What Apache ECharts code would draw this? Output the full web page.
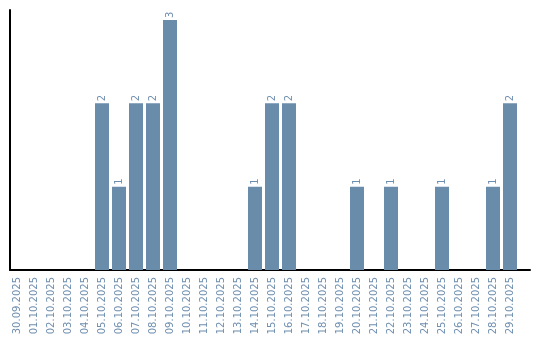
<!DOCTYPE html>
<html><head><meta charset="utf-8">
<script src="https://cdn.jsdelivr.net/npm/echarts@6/dist/echarts.min.js"></script>
<style>html,body{margin:0;padding:0;background:#fff}#c{width:540px;height:340px}</style>
</head><body><div id="c"></div>
<script>
const categories = ['30.09.2025','01.10.2025','02.10.2025','03.10.2025','04.10.2025','05.10.2025','06.10.2025','07.10.2025','08.10.2025','09.10.2025','10.10.2025','11.10.2025','12.10.2025','13.10.2025','14.10.2025','15.10.2025','16.10.2025','17.10.2025','18.10.2025','19.10.2025','20.10.2025','21.10.2025','22.10.2025','23.10.2025','24.10.2025','25.10.2025','26.10.2025','27.10.2025','28.10.2025','29.10.2025'];
const values = [0,0,0,0,0,2,1,2,2,3,0,0,0,0,1,2,2,0,0,0,1,0,1,0,0,1,0,0,1,2];
const barColor = '#6a8cab';
const textColor = '#6f8fb0';
const chart = echarts.init(document.getElementById('c'));
chart.setOption({
  animation: false,
  grid: [
    {left: 8.5, top: 10, width: 510, bottom: 70},
    {left: 10, top: 10, right: 10, bottom: 70}
  ],
  xAxis: [
    {type: 'category', data: categories, gridIndex: 0,
     axisLine: {show: false}, axisTick: {show: false},
     axisLabel: {rotate: 90, interval: 0, margin: 7, color: textColor, fontFamily: 'DejaVu Sans', fontSize: 10}},
    {type: 'value', gridIndex: 1, min: 0, max: 1, axisLine: {show: true, lineStyle: {color: '#000', width: 2}},
     axisTick: {show: false}, axisLabel: {show: false}, splitLine: {show: false}}
  ],
  yAxis: [
    {type: 'value', gridIndex: 0, min: 0, max: 3.12, axisLine: {show: false}, axisTick: {show: false},
     axisLabel: {show: false}, splitLine: {show: false}},
    {type: 'value', gridIndex: 1, min: 0, max: 1, axisLine: {show: true, lineStyle: {color: '#000', width: 2}},
     axisTick: {show: false}, axisLabel: {show: false}, splitLine: {show: false}}
  ],
  series: [{
    type: 'bar', data: values, barWidth: 14, xAxisIndex: 0, yAxisIndex: 0,
    itemStyle: {color: barColor},
    label: {show: true, position: 'top', rotate: 90, align: 'left', verticalAlign: 'middle', distance: 2,
      color: textColor, fontFamily: 'DejaVu Sans', fontSize: 10,
      formatter: p => p.value > 0 ? String(p.value) : ''}
  }]
});
</script></body></html>
